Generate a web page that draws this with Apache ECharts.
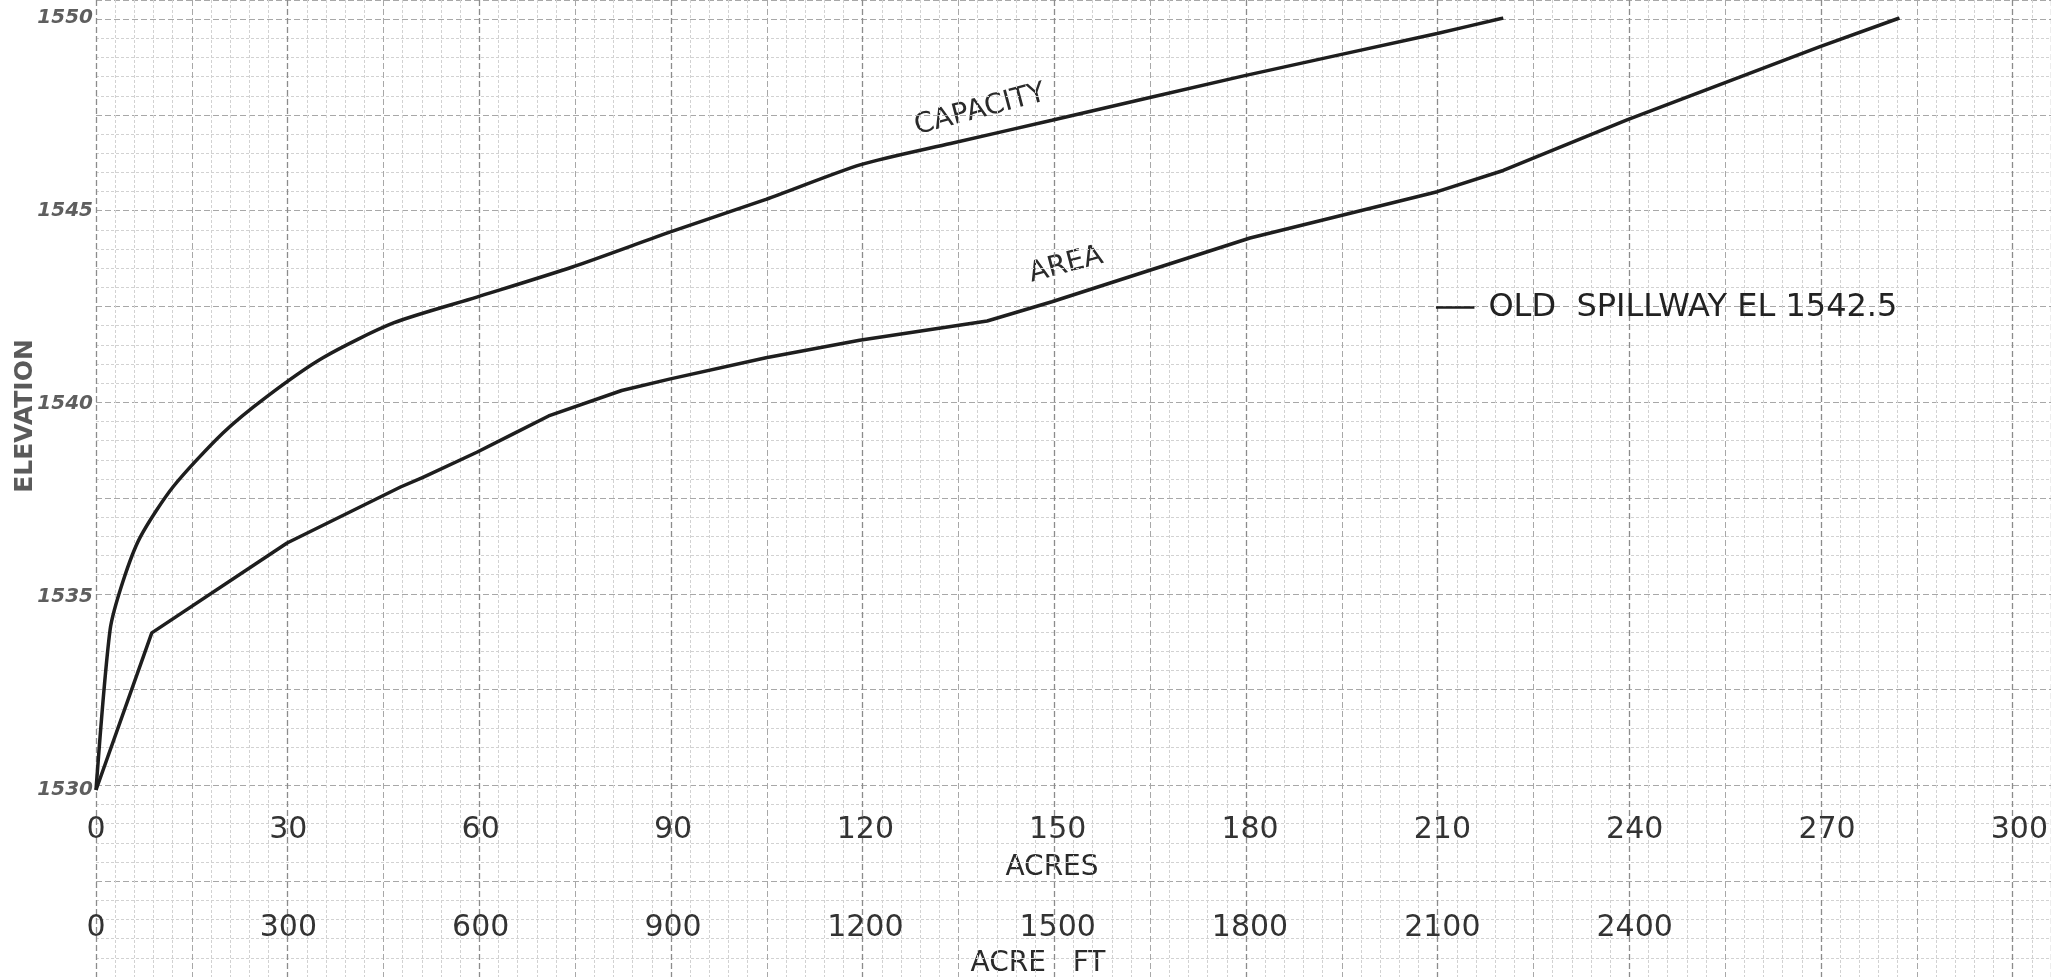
<!DOCTYPE html>
<html>
<head>
<meta charset="utf-8">
<title>Area and capacity curves</title>
<script src="https://cdn.jsdelivr.net/npm/echarts@6/dist/echarts.min.js"></script>
<style>
  html, body { margin: 0; padding: 0; background: #fff; }
  #chart { width: 2051px; height: 977px; }
</style>
</head>
<body>
<div id="chart"></div>
<script>
// area curve, [acres, elevation]
const areaPoints = [
  [0, 1530], [8.7, 1534.07], [29.8, 1536.4], [47.5, 1537.85], [51, 1538.1],
  [59.4, 1538.75], [65, 1539.22], [70.6, 1539.69], [82, 1540.35], [89.6, 1540.65],
  [104.5, 1541.2], [119.1, 1541.65], [139, 1542.15], [149.1, 1542.65], [180, 1544.3],
  [209.2, 1545.5], [219.5, 1546.05], [238.8, 1547.36], [268.8, 1549.25], [281.3, 1550]
]

// capacity curve, [acre-ft, elevation]
const capacityPoints = [
  [0, 1530], [22, 1534.15], [42, 1535.4], [69, 1536.55], [120, 1537.85],
  [198, 1539.25], [267, 1540.2], [354, 1541.2], [464, 1542.1], [594, 1542.77],
  [743, 1543.55], [896, 1544.46], [1045, 1545.3], [1193, 1546.2], [1333, 1546.75],
  [1491, 1547.35], [1790, 1548.5], [2092, 1549.6], [2195, 1550]
]

// acre-ft tick labels that are lettered on the sheet
const acreFtShown = [0, 300, 600, 900, 1200, 1500, 1800, 2100, 2400]

const spillwayEl = 1542.5
const spillwayMark = [209, 215]

const FONT = 'DejaVu Sans'
const INK = '#1e1e1e'

const chart = echarts.init(document.getElementById('chart'))

// graph paper axes: same scale as the plot, stretched over the whole sheet
const paperAxis = {
  axisLine: { show: false },
  axisTick: { show: false },
  axisLabel: { show: false },
}

chart.setOption({
  animation: false,
  backgroundColor: '#ffffff',
  grid: [
    { left: 96, top: 18, width: 1924, height: 772 },
    { left: 96, top: -1.3, width: 1962.5, height: 984.3 },
  ],
  xAxis: [
    {
      // acres
      type: 'value', gridIndex: 0, position: 'bottom',
      min: 0, max: 300, interval: 30,
      axisLine: { show: false }, axisTick: { show: false }, splitLine: { show: false },
      axisLabel: { fontFamily: FONT, fontSize: 30, color: '#333', margin: 25 },
    },
    {
      // acre-ft
      type: 'value', gridIndex: 0, position: 'bottom', offset: 98,
      min: 0, max: 3000, interval: 300,
      axisLine: { show: false }, axisTick: { show: false }, splitLine: { show: false },
      axisLabel: {
        fontFamily: FONT, fontSize: 30, color: '#333', margin: 25,
        formatter: (v) => (acreFtShown.includes(v) ? String(v) : ''),
      },
    },
    {
      type: 'value', gridIndex: 1, position: 'bottom',
      min: 0, max: 306, interval: 15,
      ...paperAxis,
      splitLine: { show: true, lineStyle: { color: '#a8a8a8', width: 1, type: [6, 3] } },
      minorTick: { show: false, splitNumber: 5 },
      minorSplitLine: { show: true, lineStyle: { color: '#d2d2d2', width: 1, type: [3, 2] } },
    },
    {
      type: 'value', gridIndex: 1, position: 'top',
      min: 0, max: 306, interval: 30,
      ...paperAxis,
      splitLine: { show: true, lineStyle: { color: '#8c8c8c', width: 1.3, type: [6, 3] } },
    },
  ],
  yAxis: [
    {
      type: 'value', gridIndex: 0,
      min: 1530, max: 1550, interval: 5,
      axisLine: { show: false }, axisTick: { show: false }, splitLine: { show: false },
      axisLabel: {
        fontFamily: FONT, fontSize: 20, fontWeight: 'bold', fontStyle: 'italic',
        color: '#5e5e5e', margin: 3,
        formatter: (v) => String(v),
      },
    },
    {
      type: 'value', gridIndex: 1,
      min: 1525, max: 1550.5, interval: 2.5,
      ...paperAxis,
      splitLine: { show: true, lineStyle: { color: '#a8a8a8', width: 1, type: [6, 3] } },
      minorTick: { show: false, splitNumber: 5 },
      minorSplitLine: { show: true, lineStyle: { color: '#d2d2d2', width: 1, type: [3, 2] } },
    },
  ],
  series: [
    {
      name: 'AREA',
      type: 'line',
      xAxisIndex: 0, yAxisIndex: 0,
      data: areaPoints,
      showSymbol: false,
      lineStyle: { color: INK, width: 3.5 },
      z: 5,
      markLine: {
        silent: true,
        symbol: 'none',
        lineStyle: { color: INK, width: 2.5, type: 'solid' },
        label: {
          show: true, position: 'end', distance: 14,
          formatter: 'OLD  SPILLWAY EL 1542.5',
          fontFamily: FONT, fontSize: 32, color: '#222',
        },
        data: [[
          { coord: [spillwayMark[0], spillwayEl] },
          { coord: [spillwayMark[1], spillwayEl] },
        ]],
      },
    },
    {
      name: 'CAPACITY',
      type: 'line',
      xAxisIndex: 1, yAxisIndex: 0,
      data: capacityPoints,
      showSymbol: false,
      smooth: 0.25,
      lineStyle: { color: INK, width: 3.5 },
      z: 5,
    },
  ],
  graphic: [
    {
      type: 'text', x: 980, y: 110, rotation: 0.26,
      style: { text: 'CAPACITY', font: '28px "DejaVu Sans"', fill: '#2a2a2a', align: 'center', verticalAlign: 'middle' },
    },
    {
      type: 'text', x: 1066, y: 265, rotation: 0.26,
      style: { text: 'AREA', font: '28px "DejaVu Sans"', fill: '#2a2a2a', align: 'center', verticalAlign: 'middle' },
    },
    {
      type: 'text', x: 1052, y: 868,
      style: { text: 'ACRES', font: '28px "DejaVu Sans"', fill: '#2a2a2a', align: 'center', verticalAlign: 'middle' },
    },
    {
      type: 'text', x: 1038, y: 964,
      style: { text: 'ACRE   FT', font: '28px "DejaVu Sans"', fill: '#2a2a2a', align: 'center', verticalAlign: 'middle' },
    },
    {
      type: 'text', x: 25, y: 416, rotation: Math.PI / 2,
      style: { text: 'ELEVATION', font: 'bold 25px "DejaVu Sans"', fill: '#5a5a5a', align: 'center', verticalAlign: 'middle' },
    },
  ],
})
</script>
</body>
</html>
